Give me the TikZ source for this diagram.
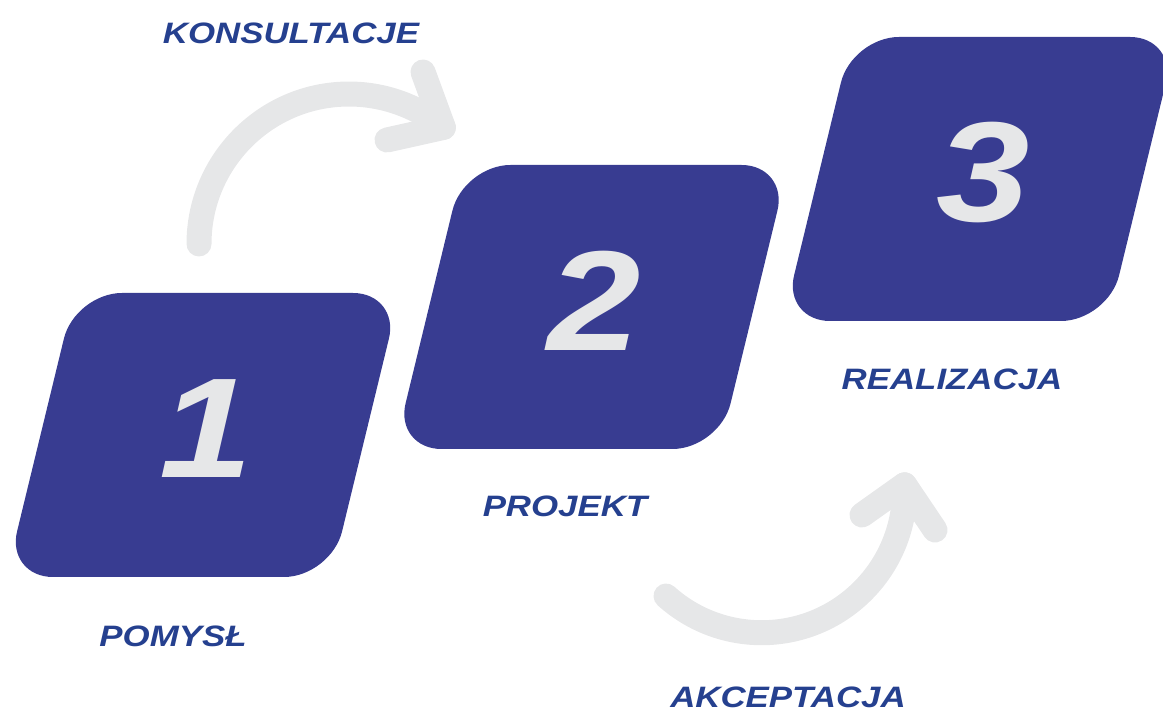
\documentclass[tikz,border=0pt]{standalone}
\usepackage{fontspec}
\setmainfont{Liberation Sans}
\newfontfamily\widefont[FakeStretch=1.18]{Liberation Sans}

\definecolor{stepblue}{RGB}{56,60,145}
\definecolor{labelblue}{RGB}{37,64,143}
\definecolor{arrowgray}{RGB}{230,231,232}

\newcommand{\DrawStep}[4]{
    \begin{scope}[shift={(#1,#2)}]
        \fill[stepblue, rounded corners=0.94cm] (0,0) -- (325,0) -- (394,284) -- (69,284) -- cycle;
        \node[digit] (#4) at (200,148) {#3};
    \end{scope}
}

\begin{document}
\begin{tikzpicture}[
  x=0.02cm, y=0.02cm,
  digit/.style={text=arrowgray, font=\widefont\fontsize{81}{81}\selectfont\bfseries\itshape, inner sep=0pt},
  steplabel/.style={text=labelblue, font=\widefont\fontsize{16.8}{16.8}\selectfont\bfseries\itshape, inner sep=0pt},
  flow/.style={draw=arrowgray, line width=0.5cm, line cap=round, line join=round}
  ]
  \useasboundingbox (0,0) rectangle (1163,716);
  \clip (0,0) rectangle (1163,716);

  % steps
  \DrawStep{6}{139}{1}{one}
  \DrawStep{394.5}{267}{2}{two}
  \DrawStep{783}{395}{3}{three}

  % labels
  \node[steplabel] (pomysl) at (173,80) {POMYSŁ};
  \node[steplabel] (projekt) at (565,210) {PROJEKT};
  \node[steplabel] (realizacja) at (952,337) {REALIZACJA};
  \node[steplabel] (konsultacje) at (291,683) {KONSULTACJE};
  \node[steplabel] (akceptacja) at (788,19) {AKCEPTACJA};

  % curved arrows
  \coordinate (konsStart) at (199,472);
  \coordinate (konsArmA) at (423,644);
  \coordinate (konsArmB) at (387,576);
  \draw[flow] (konsStart) arc[start angle=180, end angle=51, radius=3cm] coordinate (konsTip);
  \draw[flow] (konsArmA) -- (konsTip) -- (konsArmB);

  \coordinate (akcStart) at (666,120);
  \coordinate (akcArmA) at (862,201);
  \coordinate (akcArmB) at (935,186);
  \draw[flow] (akcStart) arc[start angle=228, end angle=362, radius=2.86cm] coordinate (akcTip);
  \draw[flow] (akcArmA) -- (akcTip) -- (akcArmB);
\end{tikzpicture}
\end{document}
